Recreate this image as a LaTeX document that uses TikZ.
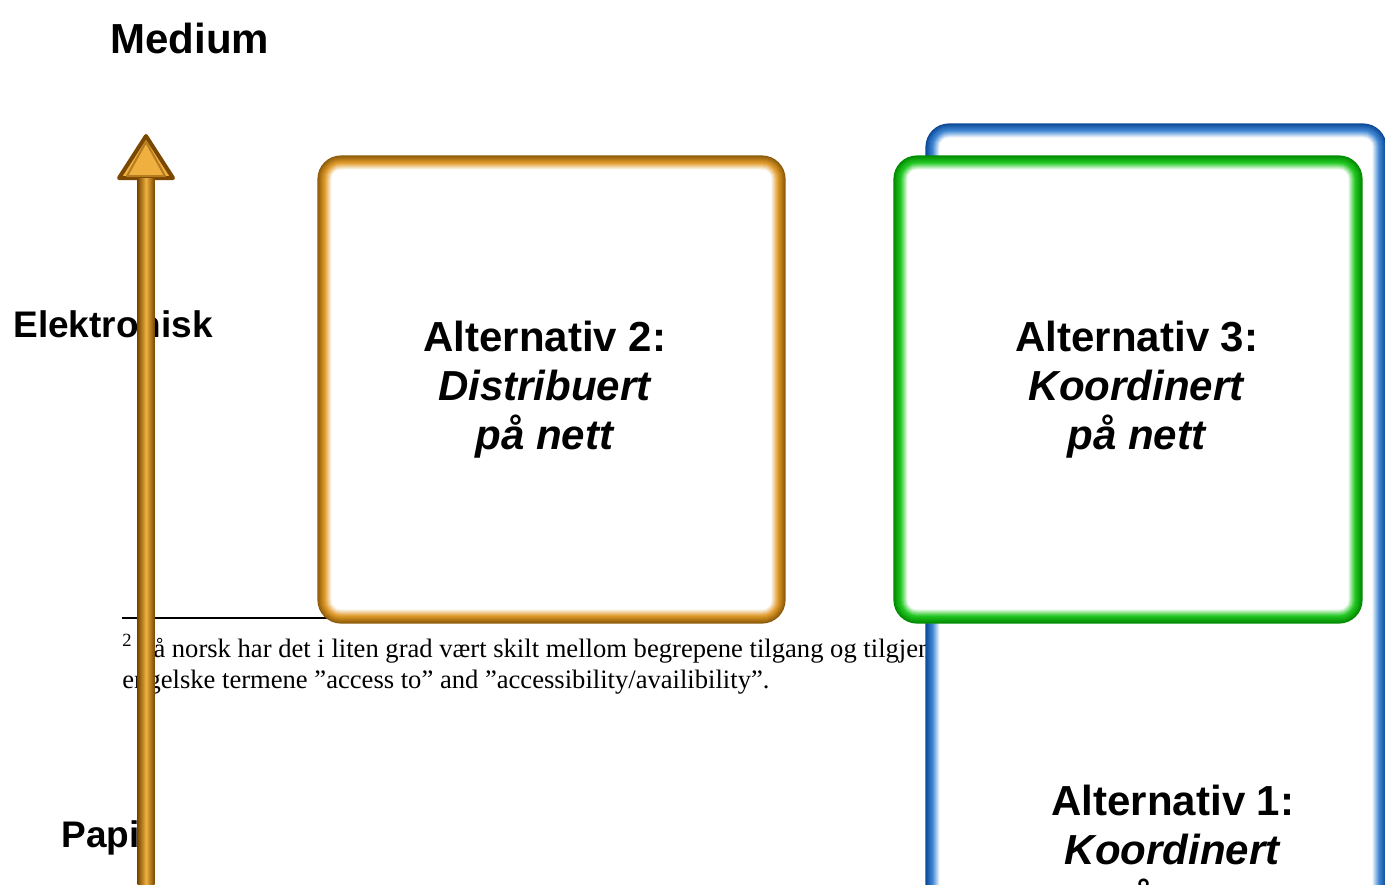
\documentclass[tikz,border=0pt]{standalone}
\usepackage{fontspec}
\setmainfont{Liberation Serif}
\setsansfont{Liberation Sans}
\usetikzlibrary{calc}

\definecolor{orangedark}{HTML}{8C5A08}
\definecolor{orangemid}{HTML}{E09A2A}
\definecolor{greendark}{HTML}{008A00}
\definecolor{greenmid}{HTML}{22C822}
\definecolor{bluedark}{HTML}{0A4896}
\definecolor{bluemid}{HTML}{4288D4}
\definecolor{axisdark}{HTML}{7A4800}
\definecolor{axismid}{HTML}{F0B040}

\newcommand{\glowframe}[3]{
  \foreach \i in {0,...,14}{
    \pgfmathtruncatemacro\pa{\i<7 ? 100-\i*100/7 : 0}
    \pgfmathtruncatemacro\pb{\i<7 ? 0 : min(100,(\i-7)*100/7)}
    \pgfmathsetmacro\rr{max(23-\i,3)*0.5}
    \colorlet{glowtmp}{#2!\pa!#3}
    \colorlet{glowcol}{white!\pb!glowtmp}
    \draw[glowcol,line width=0.7pt,rounded corners=\rr pt]
      ($(#1.north west)+(\i+0.5,\i+0.5)$) rectangle ($(#1.south east)+(-\i-0.5,-\i-0.5)$);
  }
}

\begin{document}
\begin{tikzpicture}[x=0.5pt,y=-0.5pt]
\tikzstyle{altbox}=[rectangle,fill=white,rounded corners=11.5pt,inner sep=0pt]
\tikzstyle{alttext}=[font=\sffamily\bfseries\fontsize{21}{24.5}\selectfont,align=center]
\tikzstyle{axislabel}=[font=\sffamily\bfseries\fontsize{18.5}{22}\selectfont,anchor=base west,inner sep=0pt]
\tikzstyle{fntext}=[font=\fontsize{13.3}{15.5}\selectfont,anchor=base west,inner sep=0pt]
\useasboundingbox (0,0) rectangle (1385,884);
\clip (0,0) rectangle (1385,884);

\coordinate (rulestart) at (122,618);
\coordinate (ruleend) at (420,618);
\draw[line width=0.6pt] (rulestart) -- (ruleend);
\node[fntext] (fnone) at (122,657) {\textsuperscript{2}\hspace{3pt}På norsk har det i liten grad vært skilt mellom begrepene tilgang og tilgjengelighet};
\node[fntext] (fntwo) at (122,688) {engelske termene ”access to” and ”accessibility/availibility”.};

\node[altbox,minimum width=230pt,minimum height=500pt] (box1) at (1156,624) {};
\glowframe{box1}{bluedark}{bluemid}
\node[altbox,minimum width=234pt,minimum height=233.5pt] (box3) at (1128,389.5) {};
\glowframe{box3}{greendark}{greenmid}
\node[altbox,minimum width=233.5pt,minimum height=233.5pt] (box2) at (551.5,389.5) {};
\glowframe{box2}{orangedark}{orangemid}

\node[alttext] (alt2) at (545,390) {Alternativ 2:\\ \textit{Distribuert}\\ \textit{på nett}};
\node[alttext] (alt3) at (1137,390) {Alternativ 3:\\ \textit{Koordinert}\\ \textit{på nett}};
\node[alttext] (alt1) at (1173,854) {Alternativ 1:\\ \textit{Koordinert}\\ \textit{på nett}};

\node[font=\sffamily\bfseries\fontsize{21}{25}\selectfont,anchor=base west,inner sep=0pt] (medium) at (110,53) {Medium};
\node[axislabel] (elektronisk) at (13,337) {Elektronisk};
\node[axislabel] (papir) at (61,847) {Papir};

\coordinate (axistip) at (146,136);
\coordinate (axistop) at (146,178);
\coordinate (axisbot) at (146,900);
\filldraw[fill=axismid,draw=axisdark,line width=2pt,line join=round]
  (axistip) -- ($(axistop)+(-27,0)$) -- ($(axistop)+(27,0)$) -- cycle;
\draw[axisdark!50!axismid,line width=1pt,line join=round]
  ($(axistip)+(0,6)$) -- ($(axistop)+(-19,-2)$) -- ($(axistop)+(19,-2)$) -- cycle;
\shade[left color=axisdark,right color=axisdark,middle color=axismid]
  ($(axistop)+(-8.5,0)$) rectangle ($(axisbot)+(8.5,0)$);
\end{tikzpicture}
\end{document}
